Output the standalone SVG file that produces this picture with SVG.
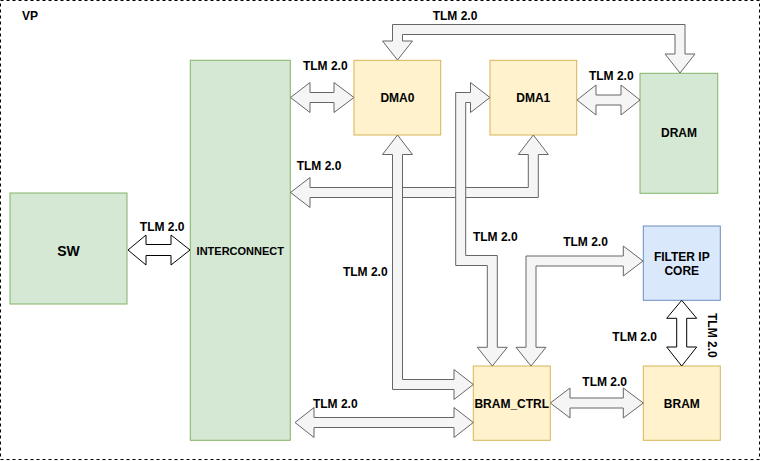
<svg xmlns="http://www.w3.org/2000/svg" width="761" height="461" viewBox="0 0 761 461">
<style>
text{font-family:"Liberation Sans",Arial,sans-serif;font-weight:bold;fill:#000;text-anchor:middle}
.lbl{font-size:12px}
.green{fill:#d5e8d4;stroke:#82b366;stroke-width:1}
.yellow{fill:#fff2cc;stroke:#d6b656;stroke-width:1}
.blue{fill:#dae8fc;stroke:#6c8ebf;stroke-width:1}
.arr{fill:#f5f5f5;stroke:#666666;stroke-width:1;stroke-linejoin:miter}
.arrw{fill:#ffffff;stroke:#000000;stroke-width:1;stroke-linejoin:miter}
</style>
<rect id="vp" x="0.5" y="0.5" width="759" height="459" fill="#ffffff" stroke="#000000" stroke-dasharray="3 3"/>
<text class="lbl" x="30" y="20">VP</text>

<g id="SW"><rect class="green" x="10" y="193" width="117" height="111"/><text x="68.5" y="256" font-size="14">SW</text></g>
<g id="INTERCONNECT"><rect class="green" x="190.3" y="60.3" width="100" height="380"/><text x="240.3" y="255" font-size="11">INTERCONNECT</text></g>
<g id="DMA0"><rect class="yellow" x="354" y="60.3" width="86.7" height="74.7"/><text class="lbl" x="397.4" y="102">DMA0</text></g>
<g id="DMA1"><rect class="yellow" x="490" y="60.3" width="86.7" height="74.7"/><text class="lbl" x="533.3" y="102">DMA1</text></g>
<g id="DRAM"><rect class="green" x="640" y="73.3" width="77.7" height="120"/><text class="lbl" x="679" y="137.3">DRAM</text></g>
<g id="FILTER"><rect class="blue" x="643.3" y="226" width="77" height="74.3"/><text class="lbl" x="681.8" y="260.5">FILTER IP</text><text class="lbl" x="681.8" y="275">CORE</text></g>
<g id="BRAM_CTRL"><rect class="yellow" x="473.3" y="366" width="77" height="74.3"/><text class="lbl" x="511.8" y="408">BRAM_CTRL</text></g>
<g id="BRAM"><rect class="yellow" x="643.3" y="366" width="77" height="74.3"/><text class="lbl" x="681.8" y="408">BRAM</text></g>

<g id="connectors">
<polygon class="arr" points="397.5,60 412.5,41 402.5,41 402.5,34.5 675,34.5 675,54 665,54 680,73 695,54 685,54 685,24.5 392.5,24.5 392.5,41 382.5,41"/>
<polygon class="arr" points="290.5,97.5 310,82.5 310,92.5 334,92.5 334,82.5 354,97.5 334,112.5 334,102.5 310,102.5 310,112.5"/>
<polygon class="arr" points="577,100 596,85 596,95 621,95 621,85 640,100 621,115 621,105 596,105 596,115"/>
<polygon class="arr" points="290.5,192.5 310,177.5 310,187.5 528.3,187.5 528.3,154.5 518.3,154.5 533.3,135 548.3,154.5 538.3,154.5 538.3,197.5 310,197.5 310,207.5"/>
<polygon class="arr" points="397.5,135 412.5,154.5 402.5,154.5 402.5,379.5 454,379.5 454,369.5 473.3,384.5 454,399.5 454,389.5 392.5,389.5 392.5,154.5 382.5,154.5"/>
<polygon class="arr" points="490,97.5 470.5,112.5 470.5,102.5 465.7,102.5 465.7,255.5 497.3,255.5 497.3,347.3 507.3,347.3 492.3,366 477.3,347.3 487.3,347.3 487.3,265.5 455.7,265.5 455.7,92.5 470.5,92.5 470.5,82.5"/>
<polygon class="arr" points="531,366 516,347.3 526,347.3 526,256 623.3,256 623.3,246 643,261 623.3,276 623.3,266 536,266 536,347.3 546,347.3"/>
<polygon class="arr" points="295,422.5 314,407.5 314,417.5 454,417.5 454,407.5 473.3,422.5 454,437.5 454,427.5 314,427.5 314,437.5"/>
<polygon class="arr" points="550.3,403 570,388 570,398 623.3,398 623.3,388 643.3,403 623.3,418 623.3,408 570,408 570,418"/>
<polygon class="arrw" points="128,250 146,235 146,244.5 171,244.5 171,235 190,250 171,265 171,255.5 146,255.5 146,265"/>
<polygon class="arrw" points="681.7,300.3 696.7,318.3 686.7,318.3 686.7,347 696.7,347 681.7,366 666.7,347 676.7,347 676.7,318.3 666.7,318.3"/>
<text class="lbl" x="455" y="20">TLM 2.0</text>
<text class="lbl" x="325.3" y="70">TLM 2.0</text>
<text class="lbl" x="611.3" y="80">TLM 2.0</text>
<text class="lbl" x="319" y="170">TLM 2.0</text>
<text class="lbl" x="495.3" y="240.5">TLM 2.0</text>
<text class="lbl" x="365.3" y="276">TLM 2.0</text>
<text class="lbl" x="335.3" y="407.5">TLM 2.0</text>
<text class="lbl" x="585.5" y="246">TLM 2.0</text>
<text class="lbl" x="634.7" y="340.5">TLM 2.0</text>
<text class="lbl" transform="translate(707.5,335.3) rotate(90)" x="0" y="0">TLM 2.0</text>
<text class="lbl" x="604.7" y="386">TLM 2.0</text>
<text class="lbl" x="162.2" y="230.5">TLM 2.0</text>
</g>
</svg>
